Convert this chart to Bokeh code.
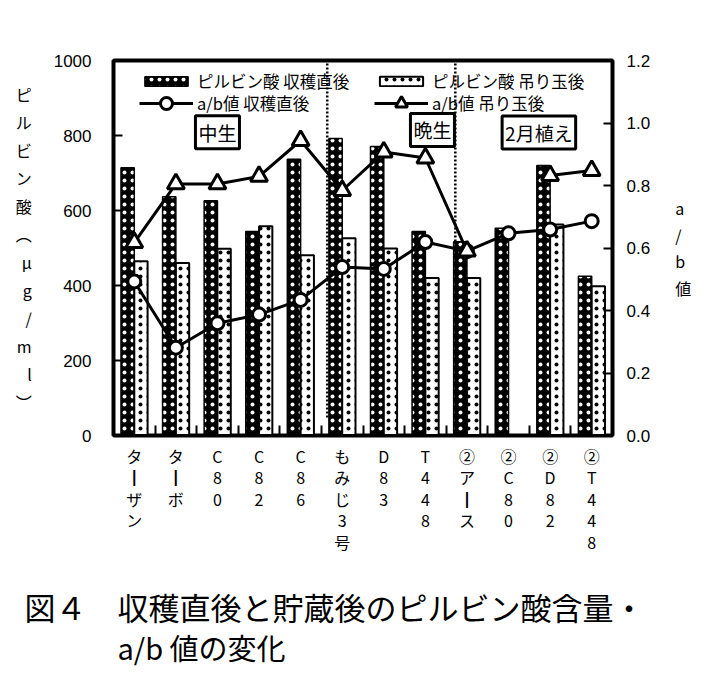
from bokeh.plotting import figure
from bokeh.layouts import column
from bokeh.models import (Range1d, LinearAxis, FixedTicker, Label, Legend, LegendItem,
                          PrintfTickFormatter, ColumnDataSource)
from bokeh.core.properties import value
from bokeh.transform import dodge
from bokeh.embed import file_html
from bokeh.resources import INLINE

NaN = float("nan")

# ---- data ----
categories = ["ターザン", "ターボ", "C80", "C82", "C86", "もみじ3号", "D83", "T448",
              "②アース", "②C80", "②D82", "②T448"]
pyruvic_harvest = [714, 637, 626, 544, 737, 792, 771, 544, 517, 553, 720, 425]
pyruvic_stored = [465, 460, 498, 558, 481, 526, 499, 420, 420, NaN, 563, 398]
ab_harvest = [0.493, 0.281, 0.359, 0.387, 0.434, 0.539, 0.533, 0.619, 0.59, 0.647, 0.659, 0.686]
ab_stored = [0.617, 0.805, 0.805, 0.829, 0.944, 0.784, 0.907, 0.888, 0.59, NaN, 0.832, 0.848]
left_ticks = [0, 200, 400, 600, 800, 1000]
right_ticks = [0.0, 0.2, 0.4, 0.6, 0.8, 1.0, 1.2]
series_names = ["ピルビン酸 収穫直後", "ピルビン酸 吊り玉後", "a/b値 収穫直後", "a/b値 吊り玉後"]
group_names = ["中生", "晩生", "2月植え"]
caption_lines = ["図４　収穫直後と貯蔵後のピルビン酸含量・", "a/b 値の変化"]
left_title = ["ピ", "ル", "ビ", "ン", "酸", "︵", "μ", "g", "/", "m", "l", "︶"]
right_title = ["a", "/", "b", "値"]

JP = "Noto Sans CJK JP"
xs = list(range(1, len(categories) + 1))


def vertical(s):
    return "\n".join("┃" if ch == "ー" else ch for ch in s)


src = ColumnDataSource(dict(x=xs, harvest=pyruvic_harvest, stored=pyruvic_stored,
                            ab_h=ab_harvest, ab_s=ab_stored))

p = figure(width=700, height=560, x_range=Range1d(0.5, 12.5), y_range=Range1d(0, 1000),
           output_backend="svg", toolbar_location=None, frame_align=False,
           min_border_left=113, min_border_right=88, min_border_top=60, min_border_bottom=125)
p.extra_y_ranges = {"ab": Range1d(0, 1.2)}
p.xgrid.visible = False
p.ygrid.visible = False
p.outline_line_color = "black"
p.outline_line_width = 4
p.background_fill_color = "white"
p.border_fill_color = "white"

# left axis
p.yaxis.ticker = FixedTicker(ticks=left_ticks)
p.yaxis.minor_tick_line_color = None
p.yaxis.major_tick_in = 9
p.yaxis.major_tick_out = 0
p.yaxis.major_tick_line_width = 2
p.yaxis.axis_line_width = 3
p.yaxis.major_label_standoff = 22
p.yaxis.major_label_text_font = "Liberation Sans"
p.yaxis.major_label_text_font_size = "17px"
p.yaxis.major_label_text_color = "black"
p.yaxis.axis_label = "\n".join(left_title)
p.yaxis.axis_label_orientation = "horizontal"
p.yaxis.axis_label_standoff = 19
p.yaxis.axis_label_text_font = JP
p.yaxis.axis_label_text_font_style = "normal"
p.yaxis.axis_label_text_font_size = "16px"
p.yaxis.axis_label_text_line_height = 1.17
p.yaxis.axis_label_text_color = "black"

# right axis
r_axis = LinearAxis(y_range_name="ab", ticker=FixedTicker(ticks=right_ticks),
                    formatter=PrintfTickFormatter(format="%.1f"))
r_axis.minor_tick_line_color = None
r_axis.major_tick_in = 9
r_axis.major_tick_out = 0
r_axis.major_tick_line_width = 2
r_axis.axis_line_width = 3
r_axis.major_label_standoff = 14
r_axis.major_label_text_font = "Liberation Sans"
r_axis.major_label_text_font_size = "17px"
r_axis.major_label_text_color = "black"
r_axis.axis_label = "\n".join(right_title)
r_axis.axis_label_orientation = "horizontal"
r_axis.axis_label_standoff = 22
r_axis.axis_label_text_font = JP
r_axis.axis_label_text_font_style = "normal"
r_axis.axis_label_text_font_size = "16px"
r_axis.axis_label_text_line_height = 1.12
r_axis.axis_label_text_color = "black"
p.add_layout(r_axis, "right")

# x axis
p.xaxis.ticker = FixedTicker(ticks=xs, minor_ticks=[i + 0.5 for i in xs[:-1]])
p.xaxis.major_label_overrides = {x: vertical(c) for x, c in zip(xs, categories)}
p.xaxis.major_tick_line_color = None
p.xaxis.minor_tick_in = 10
p.xaxis.minor_tick_out = 0
p.xaxis.minor_tick_line_width = 2
p.xaxis.axis_line_width = 3
p.xaxis.major_label_standoff = 2
p.xaxis.major_label_text_font = JP
p.xaxis.major_label_text_font_size = "16px"
p.xaxis.major_label_text_line_height = 0.9
p.xaxis.major_label_text_color = "black"

# group separators (dotted)
p.segment(x0=[5.64, 8.72], y0=[48, 48], x1=[5.64, 8.72], y1=[1000, 1000],
          line_color="black", line_width=2.5, line_dash="2 2")

# bars
r_dark = p.vbar(x=dodge("x", -0.16, range=p.x_range), top="harvest", bottom=0, width=0.32,
                source=src, fill_color="black", line_color="black", line_width=1.5,
                hatch_pattern="dot", hatch_color="white", hatch_scale=8, hatch_weight=0.5)
r_light = p.vbar(x=dodge("x", 0.16, range=p.x_range), top="stored", bottom=0, width=0.32,
                 source=src, fill_color="white", line_color="black", line_width=2,
                 hatch_pattern="dot", hatch_color="black", hatch_scale=8, hatch_weight=0.5)

# a/b lines
l_h = p.line("x", "ab_h", source=src, y_range_name="ab", line_color="black", line_width=3)
s_h = p.scatter("x", "ab_h", source=src, y_range_name="ab", marker="circle", size=13,
                fill_color="white", line_color="black", line_width=3)
l_s = p.line("x", "ab_s", source=src, y_range_name="ab", line_color="black", line_width=3)
s_s = p.scatter("x", "ab_s", source=src, y_range_name="ab", marker="triangle", size=17,
                fill_color="white", line_color="black", line_width=3)

common = dict(orientation="horizontal", glyph_width=54, label_standoff=4, label_width=165,
              spacing=12, padding=0, margin=0, border_line_color=None,
              background_fill_alpha=0, label_text_font=JP, label_text_font_size="16.5px",
              label_text_color="black")
leg1 = Legend(items=[LegendItem(label=series_names[0], renderers=[r_dark]),
                     LegendItem(label=series_names[1], renderers=[r_light])],
              location=(26, 342), glyph_height=12, **common)
leg2 = Legend(items=[LegendItem(label=series_names[2], renderers=[l_h, s_h]),
                     LegendItem(label=series_names[3], renderers=[l_s, s_s])],
              location=(26, 317), glyph_height=30, **common)
p.add_layout(leg1, "center")
p.add_layout(leg2, "center")

# group boxes
for name, gx, gy in zip(group_names, [3.0, 8.17, 10.73], [809, 815, 808]):
    p.add_layout(Label(x=gx, y=gy, text=name, text_align="center", text_baseline="middle",
                       text_font=JP, text_font_size="19px", text_color="black",
                       border_line_color="black", border_line_width=3,
                       background_fill_color="white", padding=3))

# caption panel (pixel coordinates, y downwards)
cap = figure(width=700, height=124, x_range=Range1d(0, 700), y_range=Range1d(124, 0),
             output_backend="svg", toolbar_location=None, min_border=0,
             outline_line_color=None, frame_align=False)
cap.axis.visible = False
cap.grid.visible = False
cap.text(x=[24, 117], y=[46, 86], text=caption_lines, text_baseline="middle",
         text_font=value(JP), text_font_size=["31px", "29px"], text_color="black")

open("out.html", "w").write(file_html(column(p, cap), INLINE))
